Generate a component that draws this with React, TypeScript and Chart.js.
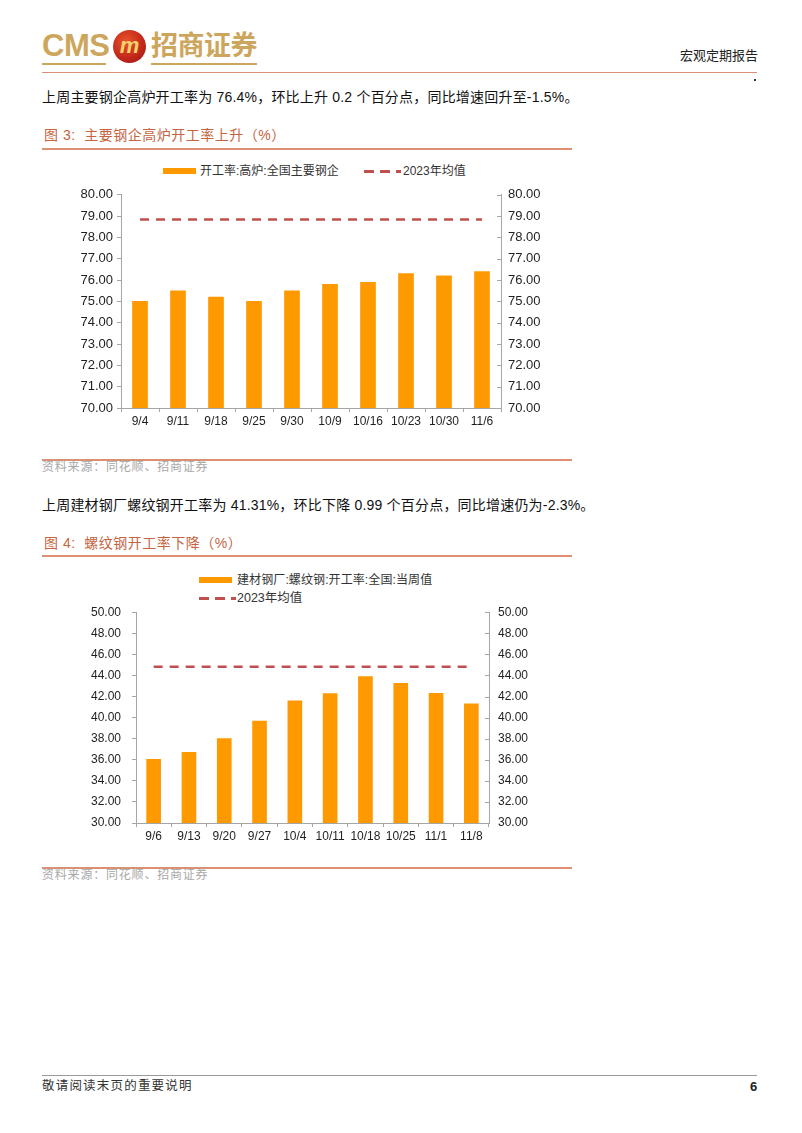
import React, { useEffect, useRef } from 'react';
import { Chart, registerables } from 'chart.js';

Chart.register(...registerables);

// ---------- Data ----------
const weeks1 = ['9/4', '9/11', '9/18', '9/25', '9/30', '10/9', '10/16', '10/23', '10/30', '11/6'];
const blastFurnaceRate = [75.0, 75.5, 75.2, 75.0, 75.5, 75.8, 75.9, 76.3, 76.2, 76.4];
const blastFurnaceAvg2023 = [78.84, 78.84, 78.84, 78.84, 78.84, 78.84, 78.84, 78.84, 78.84, 78.84];
const axis1 = { min: 70, max: 80, step: 1 };

const weeks2 = ['9/6', '9/13', '9/20', '9/27', '10/4', '10/11', '10/18', '10/25', '11/1', '11/8'];
const rebarRate = [36.04, 36.7, 38.0, 39.66, 41.6, 42.29, 43.9, 43.26, 42.3, 41.31];
const rebarAvg2023 = [44.82, 44.82, 44.82, 44.82, 44.82, 44.82, 44.82, 44.82, 44.82, 44.82];
const axis2 = { min: 30, max: 50, step: 2 };

const barLabel1 = '开工率:高炉:全国主要钢企';
const barLabel2 = '建材钢厂:螺纹钢:开工率:全国:当周值';
const avgLabel = '2023年均值';

// ---------- Styles ----------
const ORANGE = '#FF9900';
const DASH_RED = '#C0504D';
const AXIS = '#a6a6a6';
const TICK_TXT = '#1f1f1f';
const LATIN = '"Liberation Sans", Arial, "Noto Sans CJK SC", sans-serif';
const CJK = '"Liberation Sans", "Noto Sans CJK SC", sans-serif';
const GOLD = '#CDA65E';
const SALMON = '#C4653F';
const RULE = '#DB8F73';

const innerTicks = {
  id: 'innerTicks',
  afterDraw(chart: any) {
    const s = chart.scales.y1;
    if (!s) return;
    const ctx = chart.ctx;
    ctx.save();
    ctx.strokeStyle = AXIS;
    ctx.lineWidth = 1;
    s.ticks.forEach((t: any) => {
      const y = Math.round(s.getPixelForValue(t.value)) + 0.5;
      ctx.beginPath();
      ctx.moveTo(s.left - 4, y);
      ctx.lineTo(s.left, y);
      ctx.stroke();
    });
    ctx.restore();
  },
};

type Cfg = {
  labels: string[];
  bars: number[];
  avg: number[];
  barLabel: string;
  min: number;
  max: number;
  step: number;
  leftW: number;
  rightW: number;
  leftPad: number;
  rightPad: number;
  barThickness: number;
  tickSize: number;
};

function buildConfig(c: Cfg): any {
  const yFont = { family: LATIN, size: c.tickSize };
  const xFont = { family: LATIN, size: 12 };
  const fmt = (v: any) => Number(v).toFixed(2);
  return {
    type: 'bar',
    data: {
      labels: c.labels,
      datasets: [
        {
          type: 'line',
          label: avgLabel,
          data: c.avg,
          borderColor: DASH_RED,
          backgroundColor: DASH_RED,
          borderWidth: 2.5,
          borderDash: [9, 7],
          pointRadius: 0,
          fill: false,
          yAxisID: 'y',
          order: 1,
        },
        {
          type: 'bar',
          label: c.barLabel,
          data: c.bars,
          backgroundColor: ORANGE,
          barThickness: c.barThickness,
          yAxisID: 'y',
          order: 2,
        },
      ],
    },
    options: {
      animation: false,
      responsive: false,
      maintainAspectRatio: false,
      devicePixelRatio: 1,
      layout: { padding: { top: 10, left: 0, right: 0, bottom: 0 } },
      plugins: { legend: { display: false }, tooltip: { enabled: false } },
      scales: {
        x: {
          offset: true,
          grid: { offset: true, drawOnChartArea: false, tickLength: 4, color: AXIS },
          border: { color: AXIS },
          ticks: { font: xFont, color: TICK_TXT, padding: 2, maxRotation: 0, autoSkip: false },
          afterFit: (s: any) => { s.height = 22; },
        },
        y: {
          position: 'left',
          min: c.min,
          max: c.max,
          ticks: { stepSize: c.step, callback: fmt, font: yFont, color: TICK_TXT, padding: c.leftPad },
          grid: { drawOnChartArea: false, tickLength: 4, color: AXIS },
          border: { color: AXIS },
          afterFit: (s: any) => { s.width = c.leftW; },
        },
        y1: {
          position: 'right',
          min: c.min,
          max: c.max,
          ticks: { stepSize: c.step, callback: fmt, font: yFont, color: TICK_TXT, padding: c.rightPad },
          grid: { drawOnChartArea: false, drawTicks: false, color: AXIS },
          border: { color: AXIS },
          afterFit: (s: any) => { s.width = c.rightW; },
        },
      },
    },
    plugins: [innerTicks],
  };
}

function BarChart(props: { cfg: Cfg; left: number; top: number; width: number; height: number }) {
  const ref = useRef<HTMLCanvasElement | null>(null);
  useEffect(() => {
    if (!ref.current) return;
    const chart = new Chart(ref.current, buildConfig(props.cfg));
    return () => chart.destroy();
  }, []);
  return (
    <canvas
      ref={ref}
      width={props.width}
      height={props.height}
      style={{ position: 'absolute', left: props.left, top: props.top, width: props.width, height: props.height }}
    />
  );
}

function Txt(props: { x: number; y: number; size: number; color?: string; bold?: boolean; ls?: number; family?: string; children: any }) {
  return (
    <div
      style={{
        position: 'absolute',
        left: props.x,
        top: props.y - props.size / 2,
        fontSize: props.size,
        lineHeight: `${props.size}px`,
        height: props.size,
        color: props.color || '#111',
        fontWeight: props.bold ? 700 : 400,
        letterSpacing: props.ls || 0,
        fontFamily: props.family || CJK,
        whiteSpace: 'nowrap',
      }}
    >
      {props.children}
    </div>
  );
}

function HLine(props: { x1: number; x2: number; y: number; color: string; w?: number }) {
  return (
    <div
      style={{
        position: 'absolute',
        left: props.x1,
        top: props.y,
        width: props.x2 - props.x1,
        height: props.w || 1,
        background: props.color,
      }}
    />
  );
}

function LegendBar(props: { x: number; y: number }) {
  return <div style={{ position: 'absolute', left: props.x, top: props.y - 3, width: 33, height: 6, background: ORANGE }} />;
}

function LegendDash(props: { x: number; y: number }) {
  return (
    <div
      style={{
        position: 'absolute',
        left: props.x,
        top: props.y - 1,
        width: 37,
        height: 2.5,
        background: `repeating-linear-gradient(to right, ${DASH_RED} 0px, ${DASH_RED} 10px, transparent 10px, transparent 16px)`,
      }}
    />
  );
}

export default function App() {
  const cfg1: Cfg = {
    labels: weeks1,
    bars: blastFurnaceRate,
    avg: blastFurnaceAvg2023,
    barLabel: barLabel1,
    min: axis1.min,
    max: axis1.max,
    step: axis1.step,
    leftW: 79,
    rightW: 71,
    leftPad: 4,
    rightPad: 7,
    barThickness: 15,
    tickSize: 13,
  };
  const cfg2: Cfg = {
    labels: weeks2,
    bars: rebarRate,
    avg: rebarAvg2023,
    barLabel: barLabel2,
    min: axis2.min,
    max: axis2.max,
    step: axis2.step,
    leftW: 94,
    rightW: 83,
    leftPad: 11,
    rightPad: 9,
    barThickness: 14,
    tickSize: 12,
  };

  return (
    <div
      style={{
        position: 'absolute',
        left: 0,
        top: 0,
        width: 802,
        height: 1133,
        background: '#fff',
        overflow: 'hidden',
        fontFamily: CJK,
      }}
    >
      {/* Header logo */}
      <div style={{ position: 'absolute', left: 42, top: 30, fontFamily: LATIN, fontSize: 31, fontWeight: 700, color: GOLD, lineHeight: '32px', letterSpacing: -0.5 }}>
        CMS
      </div>
      <div
        style={{
          position: 'absolute',
          left: 113,
          top: 30,
          width: 33,
          height: 33,
          borderRadius: '50%',
          background: 'radial-gradient(circle at 40% 35%, #e8542a 0%, #c0261a 60%, #8e1a12 100%)',
          color: '#f6d36b',
          fontFamily: LATIN,
          fontStyle: 'italic',
          fontWeight: 700,
          fontSize: 22,
          lineHeight: '31px',
          textAlign: 'center',
        }}
      >
        m
      </div>
      <div style={{ position: 'absolute', left: 151, top: 31, fontSize: 27, fontWeight: 700, color: GOLD, lineHeight: '30px', letterSpacing: -0.5 }}>
        招商证券
      </div>
      <HLine x1={42} x2={106} y={63} color={GOLD} w={2} />
      <HLine x1={151} x2={257} y={63} color={GOLD} w={2} />
      <Txt x={680} y={55} size={13} color="#222">宏观定期报告</Txt>
      <HLine x1={42} x2={757} y={72} color={RULE} />
      <div style={{ position: 'absolute', left: 754, top: 79, width: 2, height: 2, background: '#333' }} />

      {/* Paragraph 1 */}
      <Txt x={42} y={97} size={14} ls={0.2}>
        上周主要钢企高炉开工率为 76.4%，环比上升 0.2 个百分点，同比增速回升至-1.5%。
      </Txt>

      {/* Figure 3 */}
      <Txt x={44} y={135} size={14} color={SALMON} ls={0.5}>
        图 3:&nbsp;&nbsp;主要钢企高炉开工率上升（%）
      </Txt>
      <HLine x1={42} x2={572} y={148} color={RULE} w={1.5} />
      <LegendBar x={163} y={171} />
      <Txt x={200} y={171} size={12} color="#333">{barLabel1}</Txt>
      <LegendDash x={364} y={171} />
      <Txt x={403} y={171} size={12} color="#333">{avgLabel}</Txt>
      <BarChart cfg={cfg1} left={42} top={180} width={530} height={250} />
      <HLine x1={42} x2={572} y={459} color={RULE} w={1.5} />
      <Txt x={42} y={467} size={12} color="#a8a8a8" ls={0.8}>资料来源：同花顺、招商证券</Txt>

      {/* Paragraph 2 */}
      <Txt x={42} y={505} size={14} ls={0.2}>
        上周建材钢厂螺纹钢开工率为 41.31%，环比下降 0.99 个百分点，同比增速仍为-2.3%。
      </Txt>

      {/* Figure 4 */}
      <Txt x={44} y={543} size={14} color={SALMON} ls={0.5}>
        图 4:&nbsp;&nbsp;螺纹钢开工率下降（%）
      </Txt>
      <HLine x1={42} x2={572} y={555} color={RULE} w={1.5} />
      <LegendBar x={199} y={580} />
      <Txt x={237} y={580} size={12} color="#333" ls={0.1}>{barLabel2}</Txt>
      <LegendDash x={199} y={598} />
      <Txt x={237} y={598} size={12.5} color="#333">{avgLabel}</Txt>
      <BarChart cfg={cfg2} left={42} top={594} width={530} height={251} />
      <HLine x1={42} x2={572} y={867} color={RULE} w={1.5} />
      <Txt x={42} y={875} size={12} color="#a8a8a8" ls={0.8}>资料来源：同花顺、招商证券</Txt>

      {/* Footer */}
      <HLine x1={42} x2={757} y={1075} color="#9a9a9a" />
      <Txt x={42} y={1086} size={12.5} color="#333" ls={1.2}>敬请阅读末页的重要说明</Txt>
      <Txt x={750} y={1086} size={13} bold color="#222" family={LATIN}>6</Txt>
    </div>
  );
}
